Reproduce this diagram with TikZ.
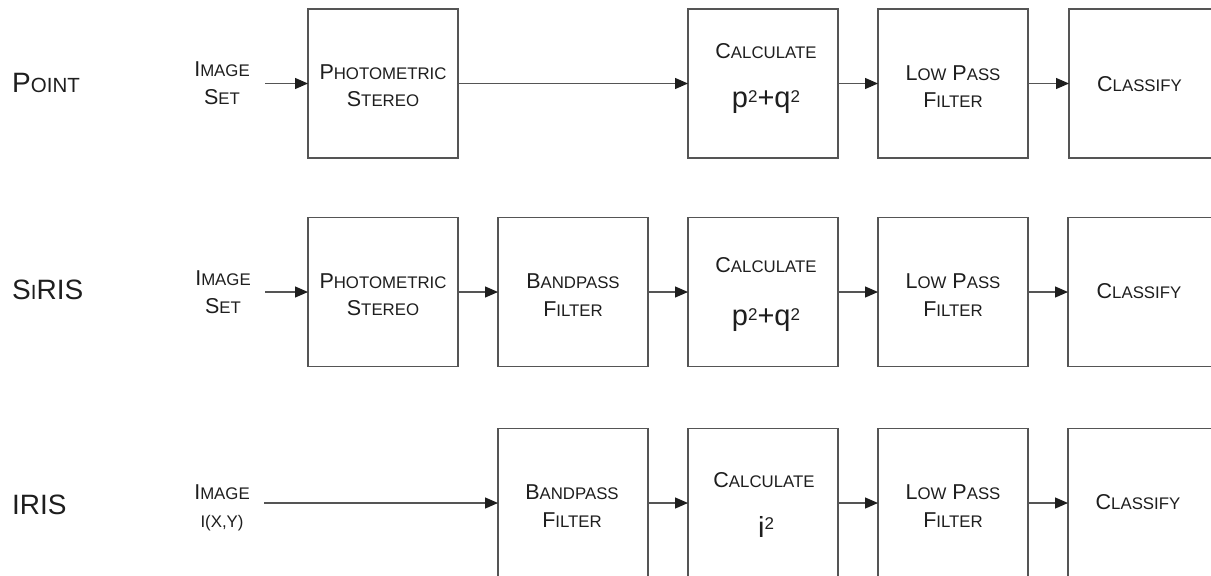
\documentclass[tikz,border=0pt]{standalone}
\usepackage{fontspec}
\setmainfont{Liberation Sans}
\usetikzlibrary{arrows.meta}
\definecolor{ink}{HTML}{1E1E1E}
\definecolor{edge}{HTML}{555555}
\newcommand\bsc[2]{#1{\fontsize{16.8}{20}\selectfont #2}}
\newcommand\lsc[2]{#1{\fontsize{20.5}{24}\selectfont #2}}
\newcommand\sqp{\raisebox{5pt}{\fontsize{17}{17}\selectfont 2}}
\newcommand\sqi{\raisebox{7.5pt}{\fontsize{17}{17}\selectfont 2}}
\begin{document}
\begin{tikzpicture}[x=1pt,y=-1pt,
  blk/.style={draw=edge, line width=1.2pt, minimum width=150pt, minimum height=149pt, inner sep=0pt, outer sep=0pt},
  txt/.style={text=ink, font=\fontsize{21.5}{27}\selectfont, anchor=base, inner sep=0pt},
  frm/.style={text=ink, font=\fontsize{29}{30}\selectfont, anchor=base, inner sep=0pt},
  rowlbl/.style={text=ink, font=\fontsize{28}{30}\selectfont, anchor=base west, inner sep=0pt},
  flow/.style={draw=edge, line width=1.2pt, -{Triangle[length=13pt,width=11pt,color=ink]}},
]
\fill[white] (0,0) rectangle (1211,576);
\useasboundingbox (0,0) rectangle (1211,576);

% ---------- Row 1: Point ----------
\node[rowlbl] (r1) at (12,92) {\lsc{P}{OINT}};
\node[txt] (i1a) at (222,76) {\bsc{I}{MAGE}};
\node[txt] (i1b) at (222,104) {\bsc{S}{ET}};
\node[blk] (P1) at (383,83.5) {};
\node[blk] (C1) at (763,83.5) {};
\node[blk] (L1) at (953,83.5) {};
\node[blk] (K1) at (1144,83.5) {};
\node[txt] (p1a) at (383,79) {\bsc{P}{HOTOMETRIC}};
\node[txt] (p1b) at (383,106) {\bsc{S}{TEREO}};
\node[txt] (c1a) at (766,58) {\bsc{C}{ALCULATE}};
\node[frm] (c1b) at (766,107) {p\sqp+q\sqp};
\node[txt] (l1a) at (953,80.5) {\bsc{L}{OW} \bsc{P}{ASS}};
\node[txt] (l1b) at (953,107.5) {\bsc{F}{ILTER}};
\node[txt] (k1a) at (1139.5,91) {\bsc{C}{LASSIFY}};
\coordinate (s1) at (265,83.5);
\draw[flow] (s1) -- (P1.west);
\draw[flow] (P1.east) -- (C1.west);
\draw[flow] (C1.east) -- (L1.west);
\draw[flow] (L1.east) -- (K1.west);

% ---------- Row 2: SiRIS ----------
\node[rowlbl] (r2) at (12,299) {\lsc{S}{I}RIS};
\node[txt] (i2a) at (223,285) {\bsc{I}{MAGE}};
\node[txt] (i2b) at (223,313) {\bsc{S}{ET}};
\node[blk] (P2) at (383,292) {};
\node[blk] (B2) at (573,292) {};
\node[blk] (C2) at (763,292) {};
\node[blk] (L2) at (953,292) {};
\node[blk] (K2) at (1143,292) {};
\node[txt] (p2a) at (383,288) {\bsc{P}{HOTOMETRIC}};
\node[txt] (p2b) at (383,315) {\bsc{S}{TEREO}};
\node[txt] (b2a) at (573,288) {\bsc{B}{ANDPASS}};
\node[txt] (b2b) at (573,316) {\bsc{F}{ILTER}};
\node[txt] (c2a) at (766,272) {\bsc{C}{ALCULATE}};
\node[frm] (c2b) at (766,325) {p\sqp+q\sqp};
\node[txt] (l2a) at (953,288) {\bsc{L}{OW} \bsc{P}{ASS}};
\node[txt] (l2b) at (953,316) {\bsc{F}{ILTER}};
\node[txt] (k2a) at (1139,298) {\bsc{C}{LASSIFY}};
\coordinate (s2) at (265,292);
\draw[flow] (s2) -- (P2.west);
\draw[flow] (P2.east) -- (B2.west);
\draw[flow] (B2.east) -- (C2.west);
\draw[flow] (C2.east) -- (L2.west);
\draw[flow] (L2.east) -- (K2.west);

% ---------- Row 3: IRIS ----------
\node[rowlbl] (r3) at (12,514) {IRIS};
\node[txt] (i3a) at (222,499) {\bsc{I}{MAGE}};
\node[txt] (i3b) at (222,527) {\fontsize{16.8}{20}\selectfont I(X,Y)};
\node[blk] (B3) at (573,503) {};
\node[blk] (C3) at (763,503) {};
\node[blk] (L3) at (953,503) {};
\node[blk] (K3) at (1143,503) {};
\node[txt] (b3a) at (572,499) {\bsc{B}{ANDPASS}};
\node[txt] (b3b) at (572,527) {\bsc{F}{ILTER}};
\node[txt] (c3a) at (764,487) {\bsc{C}{ALCULATE}};
\node[frm] (c3b) at (766,537) {i\sqi};
\node[txt] (l3a) at (953,499) {\bsc{L}{OW} \bsc{P}{ASS}};
\node[txt] (l3b) at (953,527) {\bsc{F}{ILTER}};
\node[txt] (k3a) at (1138,509) {\bsc{C}{LASSIFY}};
\coordinate (s3) at (264,503);
\draw[flow] (s3) -- (B3.west);
\draw[flow] (B3.east) -- (C3.west);
\draw[flow] (C3.east) -- (L3.west);
\draw[flow] (L3.east) -- (K3.west);
\end{tikzpicture}
\end{document}
